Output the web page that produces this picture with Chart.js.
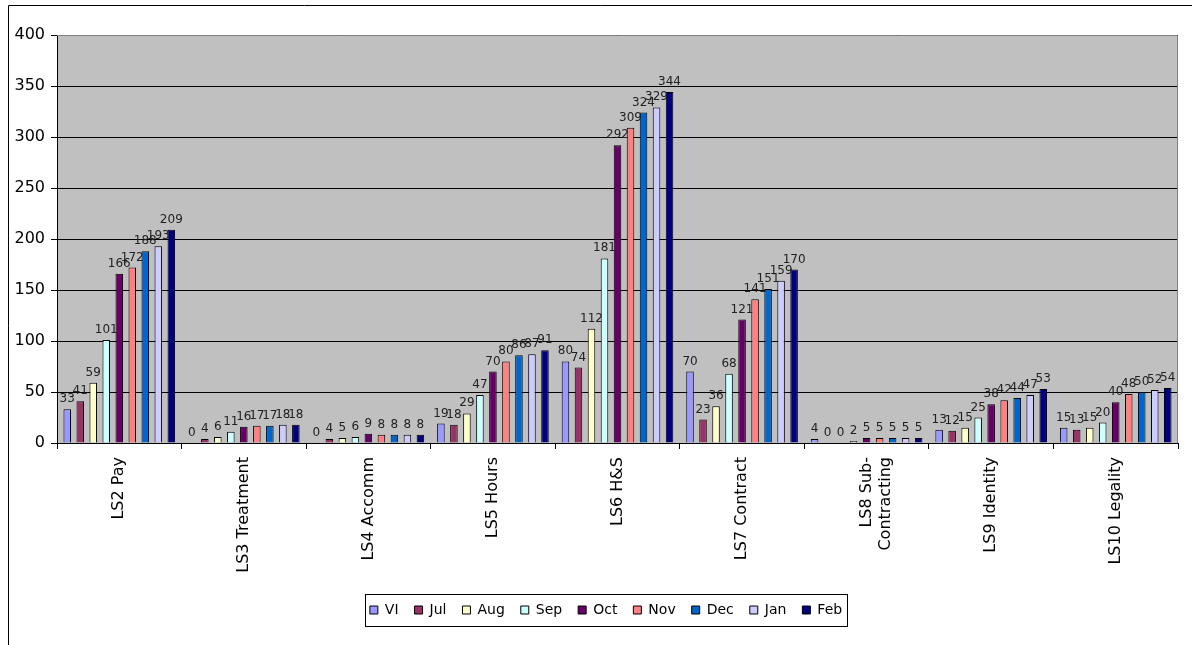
<!DOCTYPE html>
<html>
<head>
<meta charset="utf-8">
<script src="https://cdn.jsdelivr.net/npm/chart.js@4/dist/chart.umd.min.js"></script>
<style>
  html, body { margin: 0; padding: 0; background: #fff; }
  #wrap { width: 1192px; height: 645px; position: relative; }
</style>
</head>
<body>
<div id="wrap"><canvas id="chart"></canvas></div>
<script>
// categories
const categories = ['LS2 Pay', 'LS3 Treatment', 'LS4 Accomm', 'LS5 Hours', 'LS6 H&S',
  'LS7 Contract', ['LS8 Sub-', 'Contracting'], 'LS9 Identity', 'LS10 Legality'];

// one array per month
const VI  = [33, 0, 0, 19, 80, 70, 4, 13, 15];
const Jul = [41, 4, 4, 18, 74, 23, 0, 12, 13];
const Aug = [59, 6, 5, 29, 112, 36, 0, 15, 15];
const Sep = [101, 11, 6, 47, 181, 68, 2, 25, 20];
const Oct = [166, 16, 9, 70, 292, 121, 5, 38, 40];
const Nov = [172, 17, 8, 80, 309, 141, 5, 42, 48];
const Dec = [188, 17, 8, 86, 324, 151, 5, 44, 50];
const Jan = [193, 18, 8, 87, 329, 159, 5, 47, 52];
const Feb = [209, 18, 8, 91, 344, 170, 5, 53, 54];

const seriesNames = ['VI', 'Jul', 'Aug', 'Sep', 'Oct', 'Nov', 'Dec', 'Jan', 'Feb'];
const seriesValues = [VI, Jul, Aug, Sep, Oct, Nov, Dec, Jan, Feb];
const seriesColors = ['#9999FF', '#993366', '#FFFFCC', '#CCFFFF', '#660066',
  '#FF8080', '#0066CC', '#CCCCFF', '#000080'];

// y axis ticks
const yMax = 400;
const yStep = 50;

Chart.defaults.font.family = 'DejaVu Sans';
Chart.defaults.color = '#000';

// grey plot area, plot frame, value labels, outer frame, legend frame
const excelLook = {
  id: 'excelLook',
  afterLayout(chart) {
    // legend sits a bit right of the canvas centre in the original
    chart.legend.left += 17;
    chart.legend.right += 17;
  },
  beforeDraw(chart) {
    const { ctx, chartArea: a } = chart;
    ctx.save();
    ctx.fillStyle = '#C0C0C0';
    ctx.fillRect(a.left, a.top, a.right - a.left, a.bottom - a.top);
    ctx.restore();
  },
  afterDatasetsDraw(chart) {
    const { ctx, chartArea: a } = chart;
    ctx.save();
    ctx.strokeStyle = '#808080';
    ctx.lineWidth = 1;
    ctx.beginPath();
    ctx.moveTo(a.left, a.top + 0.5);
    ctx.lineTo(a.right - 0.5, a.top + 0.5);
    ctx.lineTo(a.right - 0.5, a.bottom);
    ctx.stroke();

    ctx.font = '12px "DejaVu Sans"';
    ctx.fillStyle = '#222';
    ctx.textAlign = 'center';
    ctx.textBaseline = 'alphabetic';
    chart.data.datasets.forEach((ds, i) => {
      const meta = chart.getDatasetMeta(i);
      meta.data.forEach((bar, j) => {
        ctx.fillText(String(ds.data[j]), bar.x, bar.y - 7);
      });
    });
    ctx.restore();
  },
  afterDraw(chart) {
    const { ctx } = chart;
    ctx.save();
    ctx.strokeStyle = '#000';
    ctx.lineWidth = 1;
    ctx.beginPath();
    ctx.moveTo(8.5, 645);
    ctx.lineTo(8.5, 5.5);
    ctx.lineTo(1192, 5.5);
    ctx.stroke();

    const boxes = chart.legend.legendHitBoxes;
    if (boxes && boxes.length) {
      const l = Math.min(...boxes.map(b => b.left)) - 5;
      const r = Math.max(...boxes.map(b => b.left + b.width)) + 5;
      const t = Math.min(...boxes.map(b => b.top)) - 9;
      const btm = Math.max(...boxes.map(b => b.top + b.height)) + 9;
      ctx.strokeStyle = '#000';
      ctx.strokeRect(Math.round(l) + 0.5, Math.round(t) + 0.5, Math.round(r - l), Math.round(btm - t));
    }
    ctx.restore();
  }
};

new Chart(document.getElementById('chart'), {
  type: 'bar',
  data: {
    labels: categories,
    datasets: seriesNames.map((name, i) => ({
      label: name,
      data: seriesValues[i],
      backgroundColor: seriesColors[i],
      borderColor: '#000',
      borderWidth: 1,
      categoryPercentage: 0.94,
      barPercentage: 0.58
    }))
  },
  options: {
    responsive: true,
    maintainAspectRatio: false,
    animation: false,
    layout: { padding: { top: 35, left: 0, right: 14, bottom: 18 } },
    plugins: {
      tooltip: { enabled: false },
      legend: {
        position: 'bottom',
        labels: {
          boxWidth: 8,
          boxHeight: 8,
          padding: 16,
          font: { size: 14 },
          color: '#000'
        }
      }
    },
    scales: {
      x: {
        afterFit(scale) { scale.height = 144; },
        grid: {
          display: true,
          offset: true,
          drawOnChartArea: false,
          drawTicks: true,
          tickLength: 6,
          color: '#000'
        },
        border: { color: '#000', width: 1 },
        ticks: {
          minRotation: 90,
          maxRotation: 90,
          autoSkip: false,
          padding: 8,
          font: { size: 16 },
          color: '#000'
        }
      },
      y: {
        min: 0,
        max: yMax,
        afterFit(scale) { scale.width = 57; },
        grid: {
          color: '#000',
          lineWidth: 1,
          tickLength: 6
        },
        border: { color: '#000', width: 1 },
        ticks: {
          stepSize: yStep,
          padding: 6,
          font: { size: 16 },
          color: '#000'
        }
      }
    }
  },
  plugins: [excelLook]
});
</script>
</body>
</html>
